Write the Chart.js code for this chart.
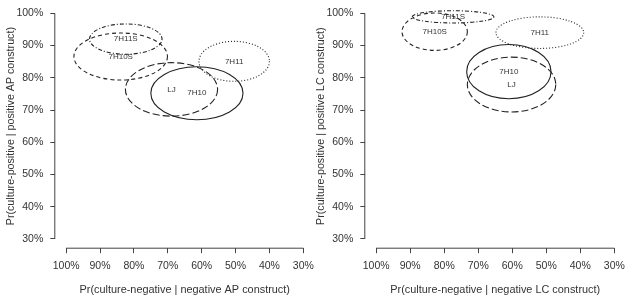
<!DOCTYPE html>
<html>
<head>
<meta charset="utf-8">
<script src="https://cdn.jsdelivr.net/npm/chart.js@4.4.1/dist/chart.umd.min.js"></script>
<style>
    html, body { margin: 0; padding: 0; background: #fff; }
    #wrap { position: relative; width: 629px; height: 302px; overflow: hidden; }
    .panel { position: absolute; top: 0; }
</style>
</head>
<body>
<div id="wrap">
    <div class="panel" style="left:0"><canvas id="apChart" width="318" height="302"></canvas></div>
    <div class="panel" style="left:310px"><canvas id="lcChart" width="319" height="302"></canvas></div>
</div>
<script>
// Tick values (percent) shared by both panels
const tickValues = [30, 40, 50, 60, 70, 80, 90, 100];

// Ellipse order: 7H11S, 7H10S, 7H11, LJ, 7H10
const names = ['7H11S', '7H10S', '7H11', 'LJ', '7H10'];

// AP construct panel
const apCenterX = [82.4, 83.9, 50.4, 68.9, 61.4];
const apCenterY = [92.0, 86.6, 85.1, 76.4, 75.2];
const apRadiusX = [10.7, 13.8, 10.4, 13.6, 13.6];
const apRadiusY = [4.7, 7.3, 6.2, 8.3, 8.2];

// LC construct panel
const lcCenterX = [77.4, 82.8, 51.9, 60.2, 61.0];
const lcCenterY = [98.9, 94.3, 94.0, 77.9, 81.9];
const lcRadiusX = [12.0, 9.6, 12.9, 13.0, 12.4];
const lcRadiusY = [1.9, 5.8, 4.9, 8.5, 8.4];

// R style line types
const dashes = {
    '7H11S': [1, 2, 4, 2],
    '7H10S': [4, 3],
    '7H11': [1, 2],
    'LJ': [7, 3],
    '7H10': []
};

const FONT = "'Liberation Sans', Arial, Helvetica, sans-serif";
const INK = '#333';

const ellipsePlugin = {
    id: 'ellipses',
    afterDatasetsDraw(chart) {
        const { ctx, scales: { x, y } } = chart;
        ctx.save();
        chart.data.datasets.forEach((ds, i) => {
            const pt = chart.getDatasetMeta(i).data[0];
            const c = ds.data[0];
            const rx = Math.abs(x.getPixelForValue(c.x + ds.rx) - pt.x);
            const ry = Math.abs(y.getPixelForValue(c.y + ds.ry) - pt.y);
            ctx.beginPath();
            ctx.setLineDash(dashes[ds.label]);
            ctx.lineWidth = 1.1;
            ctx.strokeStyle = '#222';
            ctx.ellipse(pt.x, pt.y, rx, ry, 0, 0, Math.PI * 2);
            ctx.stroke();
            ctx.setLineDash([]);
            ctx.fillStyle = INK;
            ctx.font = '8px ' + FONT;
            ctx.textAlign = 'center';
            ctx.textBaseline = 'middle';
            ctx.fillText(ds.label, pt.x, pt.y);
        });
        ctx.restore();
    }
};

// Detached R-style axis lines and titles, centred on the tick range
const axisLinePlugin = {
    id: 'axisLines',
    afterDraw(chart, args, opts) {
        const { ctx, chartArea, scales: { x, y } } = chart;
        const x0 = x.getPixelForValue(100), x1 = x.getPixelForValue(30);
        const y0 = y.getPixelForValue(100), y1 = y.getPixelForValue(30);
        ctx.save();
        ctx.strokeStyle = '#444';
        ctx.lineWidth = 1;
        ctx.beginPath();
        ctx.moveTo(x0, chartArea.bottom + 0.5);
        ctx.lineTo(x1, chartArea.bottom + 0.5);
        ctx.moveTo(chartArea.left - 0.5, y0);
        ctx.lineTo(chartArea.left - 0.5, y1);
        ctx.stroke();

        ctx.fillStyle = INK;
        ctx.textAlign = 'center';
        ctx.textBaseline = 'middle';
        ctx.font = '10.9px ' + FONT;
        ctx.fillText(opts.xTitle, (x0 + x1) / 2, 290);
        ctx.translate(11, (y0 + y1) / 2);
        ctx.rotate(-Math.PI / 2);
        ctx.font = '10.7px ' + FONT;
        ctx.fillText(opts.yTitle, 0, 0);
        ctx.restore();
    }
};

function makePanel(canvasId, cx, cy, rx, ry, xTitle, yTitle) {
    const datasets = names.map((n, i) => ({
        label: n,
        data: [{ x: cx[i], y: cy[i] }],
        rx: rx[i],
        ry: ry[i],
        pointRadius: 0,
        pointHoverRadius: 0
    }));
    const setTicks = (scale) => {
        scale.ticks = tickValues.map(v => ({ value: v }));
    };
    return new Chart(document.getElementById(canvasId), {
        type: 'scatter',
        data: { datasets: datasets },
        options: {
            responsive: false,
            animation: false,
            events: [],
            layout: { padding: { top: 12.3, right: 14.7, left: 0, bottom: 0 } },
            plugins: {
                legend: { display: false },
                tooltip: { enabled: false },
                axisLines: { xTitle: xTitle, yTitle: yTitle }
            },
            scales: {
                x: {
                    type: 'linear',
                    reverse: true,
                    min: 30,
                    max: 103.2,
                    afterBuildTicks: setTicks,
                    afterFit: (s) => { s.height = 54.3; },
                    border: { display: false },
                    grid: { drawOnChartArea: false, drawTicks: true, tickLength: 5.5, color: '#444' },
                    ticks: {
                        padding: 7,
                        color: INK,
                        font: { family: FONT, size: 10.5 },
                        maxRotation: 0,
                        callback: (v) => v + '%'
                    }
                },
                y: {
                    type: 'linear',
                    min: 27.3,
                    max: 100,
                    afterBuildTicks: setTicks,
                    afterFit: (s) => { s.width = 55.3; },
                    border: { display: false },
                    grid: { drawOnChartArea: false, drawTicks: true, tickLength: 5, color: '#444' },
                    ticks: {
                        padding: 7,
                        color: INK,
                        font: { family: FONT, size: 10.5 },
                        callback: (v) => v + '%'
                    }
                }
            }
        },
        plugins: [ellipsePlugin, axisLinePlugin]
    });
}

makePanel('apChart', apCenterX, apCenterY, apRadiusX, apRadiusY,
    'Pr(culture-negative | negative AP construct)',
    'Pr(culture-positive | positive AP construct)');

makePanel('lcChart', lcCenterX, lcCenterY, lcRadiusX, lcRadiusY,
    'Pr(culture-negative | negative LC construct)',
    'Pr(culture-positive | positive LC construct)');
</script>
</body>
</html>
